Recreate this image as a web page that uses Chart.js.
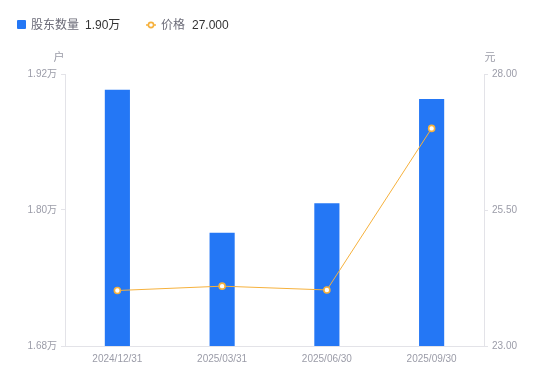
<!DOCTYPE html>
<html>
<head>
<meta charset="utf-8">
<script src="https://cdn.jsdelivr.net/npm/chart.js@4/dist/chart.umd.min.js"></script>
<style>
  html, body { margin: 0; padding: 0; background: #fff; }
  #wrap { position: relative; width: 550px; height: 381px; }
  #legend { position: absolute; left: 0; top: 0; width: 550px; height: 50px;
    font-family: "Liberation Sans", "Noto Sans CJK SC", sans-serif; font-size: 12px; }
  .item { position: absolute; top: 17px; line-height: 16px; white-space: nowrap; }
  .lab { color: #6b6b78; }
  .val { color: #333333; margin-left: 6px; }
</style>
</head>
<body>
<div id="wrap">
  <canvas id="c" width="550" height="381"></canvas>
  <div id="legend"></div>
</div>
<script>
const categories = ['2024/12/31', '2025/03/31', '2025/06/30', '2025/09/30'];
const holders = [1.906, 1.780, 1.806, 1.898];   // 万户
const prices = [24.02, 24.10, 24.03, 27.00];    // 元
const leftTicks = [1.68, 1.80, 1.92];
const rightTicks = [23.00, 25.50, 28.00];
const seriesNames = ['股东数量', '价格'];
const unitLeft = '户';
const unitRight = '元';

const BLUE = '#2477F5';
const ORANGE = '#F6B13C';
const GRAY = '#9b9ca8';
const FONT = '"Liberation Sans", "Noto Sans CJK SC", sans-serif';

// HTML legend
const lg = document.getElementById('legend');
lg.innerHTML =
  '<div class="item" style="left:17px"><span style="display:inline-block;width:9px;height:9px;background:' + BLUE + ';border-radius:1px;vertical-align:-0px;margin-right:5px"></span>' +
  '<span class="lab">' + seriesNames[0] + '</span><span class="val">' + holders[holders.length - 1].toFixed(2) + '万</span></div>' +
  '<div class="item" style="left:146px"><svg width="10" height="10" style="vertical-align:-1px;margin-right:5px"><line x1="0" y1="5" x2="10" y2="5" stroke="' + ORANGE + '" stroke-width="1.5"/><circle cx="5" cy="5" r="2.6" fill="#fff" stroke="' + ORANGE + '" stroke-width="1.6"/></svg>' +
  '<span class="lab">' + seriesNames[1] + '</span><span class="val" style="margin-left:7px">' + prices[prices.length - 1].toFixed(3) + '</span></div>';

const unitPlugin = {
  id: 'units',
  afterDraw(chart) {
    const ctx = chart.ctx;
    const a = chart.chartArea;
    ctx.save();
    ctx.font = '11px ' + FONT;
    ctx.fillStyle = GRAY;
    ctx.textAlign = 'center';
    ctx.textBaseline = 'middle';
    ctx.fillText(unitLeft, a.left - 6, a.top - 16);
    ctx.fillText(unitRight, a.right + 6, a.top - 16);
    ctx.restore();
  }
};

new Chart(document.getElementById('c'), {
  data: {
    labels: categories,
    datasets: [
      {
        type: 'line', label: seriesNames[1], data: prices, yAxisID: 'y1', order: 0,
        borderColor: ORANGE, borderWidth: 1, pointRadius: 3, pointBorderWidth: 1.6,
        pointBackgroundColor: '#fff', pointBorderColor: ORANGE, tension: 0
      },
      {
        type: 'bar', label: seriesNames[0], data: holders, yAxisID: 'y', order: 1,
        backgroundColor: BLUE, barPercentage: 0.24, categoryPercentage: 1
      }
    ]
  },
  options: {
    responsive: false,
    devicePixelRatio: 1,
    animation: false,
    layout: { padding: { top: 74, left: 0, right: 0, bottom: 0 } },
    plugins: { legend: { display: false }, tooltip: { enabled: false } },
    scales: {
      x: {
        grid: { display: false, drawTicks: false },
        border: { display: true, color: '#e3e3e8' },
        ticks: { color: GRAY, font: { family: FONT, size: 10 }, padding: 7, maxRotation: 0 },
        afterFit(s) { s.height = 35; }
      },
      y: {
        position: 'left', min: leftTicks[0], max: leftTicks[leftTicks.length - 1],
        afterBuildTicks(s) { s.ticks = leftTicks.map(v => ({ value: v })); },
        grid: { drawOnChartArea: false, drawTicks: true, tickLength: 4, color: '#e3e3e8' },
        border: { display: true, color: '#e3e3e8' },
        ticks: { color: GRAY, font: { family: FONT, size: 10 }, padding: 4,
          callback: v => Number(v).toFixed(2) + '万' },
        afterFit(s) { s.width = 65; }
      },
      y1: {
        position: 'right', min: rightTicks[0], max: rightTicks[rightTicks.length - 1],
        afterBuildTicks(s) { s.ticks = rightTicks.map(v => ({ value: v })); },
        grid: { drawOnChartArea: false, drawTicks: true, tickLength: 4, color: '#e3e3e8' },
        border: { display: true, color: '#e3e3e8' },
        ticks: { color: GRAY, font: { family: FONT, size: 10 }, padding: 4,
          callback: v => Number(v).toFixed(2) },
        afterFit(s) { s.width = 66; }
      }
    }
  },
  plugins: [unitPlugin]
});
</script>
</body>
</html>
